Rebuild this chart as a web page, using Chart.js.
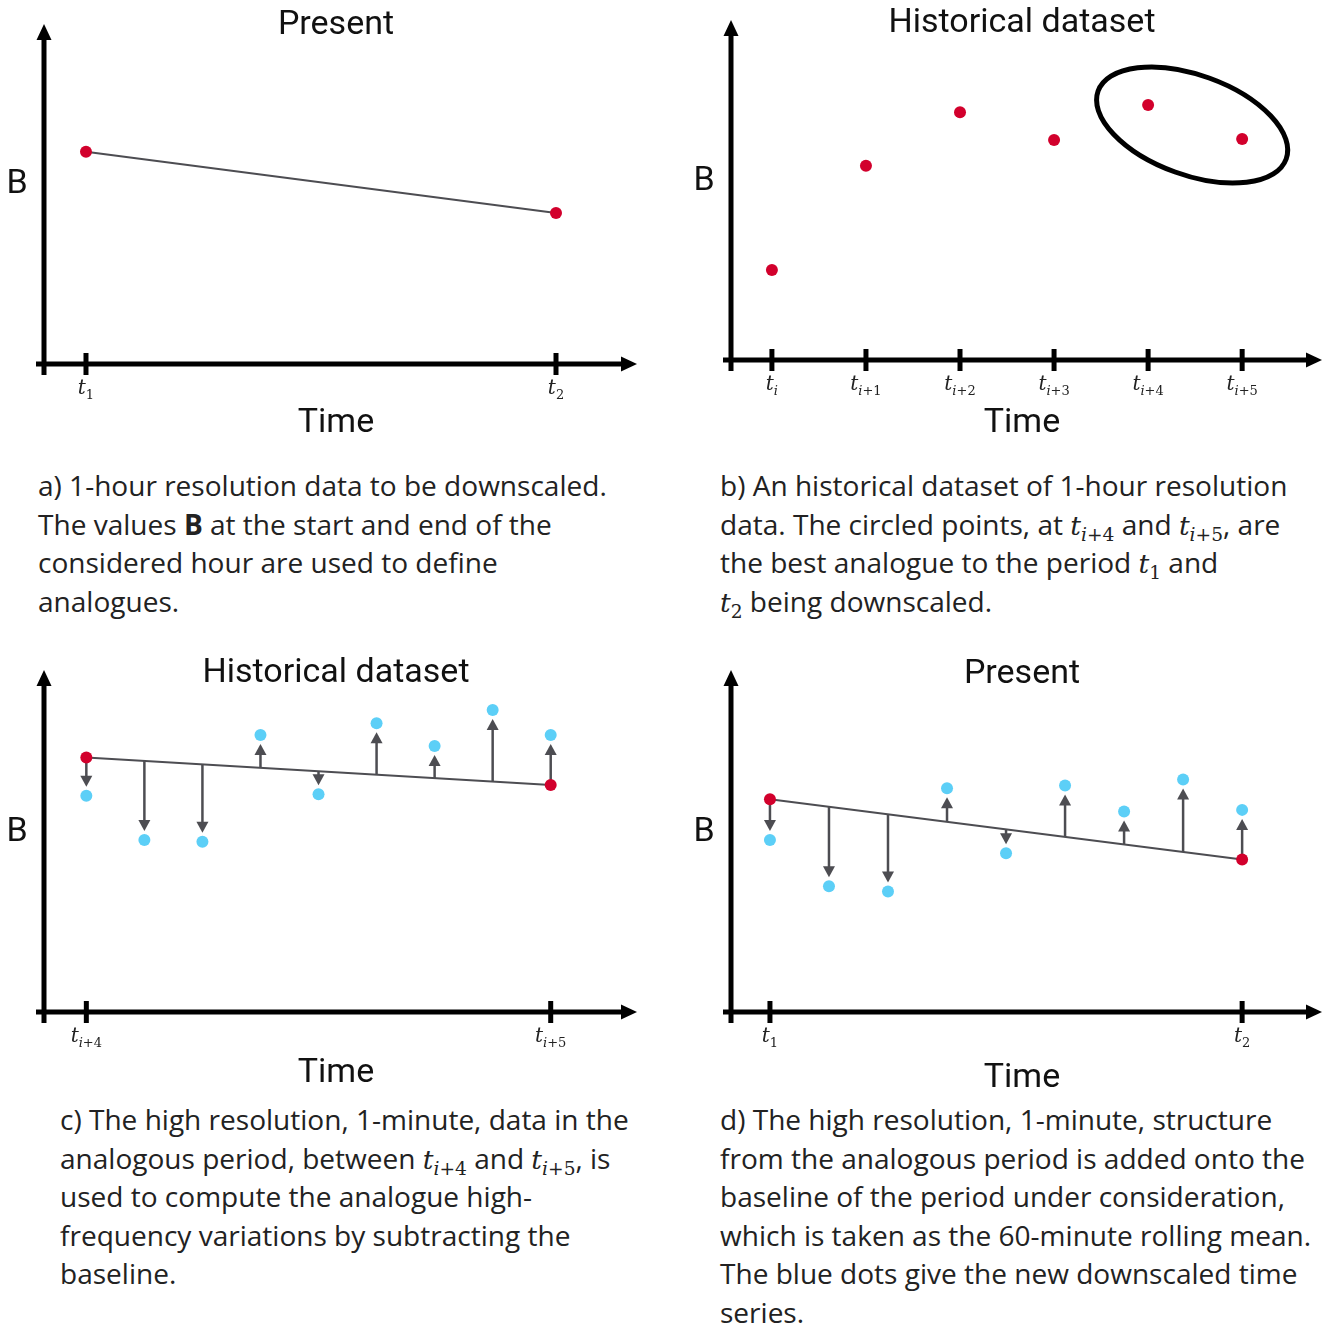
<!DOCTYPE html>
<html>
<head>
<meta charset="utf-8">
<script src="https://cdn.jsdelivr.net/npm/chart.js@4.4.1/dist/chart.umd.min.js"></script>
<style>
body { margin: 0; background: #fff; }
#page { position: relative; width: 1328px; height: 1325px; overflow: hidden; }
canvas { position: absolute; }
.lbl { position: absolute; transform: translate(-50%, -50%); font-family: Roboto; color: #111; white-space: nowrap; z-index: 2; }
.title { font-size: 34px; }
.axis { font-size: 34px; }
.cap { position: absolute; font-family: "Open Sans"; font-size: 26px; line-height: 38.5px; color: #222; white-space: nowrap; }
.m { font-family: "DejaVu Serif"; font-style: italic; font-size: 0.95em; line-height: 0; }
.m sub { font-size: 0.7em; line-height: 0; font-style: normal; vertical-align: -0.3em; }
.m sub i { font-style: italic; }
</style>
</head>
<body>
<div id="page">
  <canvas id="chartA" width="664" height="440" style="left:0;top:0"></canvas>
  <canvas id="chartB" width="664" height="440" style="left:664px;top:0"></canvas>
  <canvas id="chartC" width="664" height="440" style="left:0;top:648px"></canvas>
  <canvas id="chartD" width="664" height="440" style="left:664px;top:648px"></canvas>

  <div class="lbl title" style="left:336px;top:22px">Present</div>
  <div class="lbl title" style="left:1022px;top:20px">Historical dataset</div>
  <div class="lbl title" style="left:336px;top:670px">Historical dataset</div>
  <div class="lbl title" style="left:1022px;top:671px">Present</div>

  <div class="lbl axis" style="left:17px;top:181px">B</div>
  <div class="lbl axis" style="left:704px;top:178px">B</div>
  <div class="lbl axis" style="left:17px;top:829px">B</div>
  <div class="lbl axis" style="left:704px;top:829px">B</div>

  <div class="lbl axis" style="left:336px;top:420px">Time</div>
  <div class="lbl axis" style="left:1022px;top:420px">Time</div>
  <div class="lbl axis" style="left:336px;top:1070px">Time</div>
  <div class="lbl axis" style="left:1022px;top:1075px">Time</div>

  <div class="cap" style="left:38px;top:466px">
    <span id="capRef">a) 1-hour resolution data to be downscaled.</span><br>
    The values <b>B</b> at the start and end of the<br>
    considered hour are used to define<br>
    analogues.
  </div>
  <div class="cap" style="left:720px;top:466px">
    b) An historical dataset of 1-hour resolution<br>
    data. The circled points, at <span class="m">t<sub><i>i</i>+4</sub></span> and <span class="m">t<sub><i>i</i>+5</sub></span>, are<br>
    the best analogue to the period <span class="m">t<sub>1</sub></span> and<br>
    <span class="m">t<sub>2</sub></span> being downscaled.
  </div>
  <div class="cap" style="left:60px;top:1100px">
    c) The high resolution, 1-minute, data in the<br>
    analogous period, between <span class="m">t<sub><i>i</i>+4</sub></span> and <span class="m">t<sub><i>i</i>+5</sub></span>, is<br>
    used to compute the analogue high-<br>
    frequency variations by subtracting the<br>
    baseline.
  </div>
  <div class="cap" style="left:720px;top:1100px">
    d) The high resolution, 1-minute, structure<br>
    from the analogous period is added onto the<br>
    baseline of the period under consideration,<br>
    which is taken as the 60-minute rolling mean.<br>
    The blue dots give the new downscaled time<br>
    series.
  </div>
</div>
<script>
// hourly values (minutes from start of hour)
const hourMinutes = [0, 60];
const presentB = [6.24, 4.44];
const presentSubs = ['1', '2'];

// historical hourly dataset
const hourIndex = [0, 1, 2, 3, 4, 5];
const historicalB = [2.65, 5.71, 7.29, 6.47, 7.50, 6.50];
const historicalSubs = ['i', 'i+1', 'i+2', 'i+3', 'i+4', 'i+5'];
const circled = [4, 5];

// 1-minute structure, sampled every 7.5 minutes
const minutes = [0, 7.5, 15, 22.5, 30, 37.5, 45, 52.5, 60];
const analogueMeanB = [7.44, 6.64];
const analogueMinuteB = [6.32, 5.03, 4.98, 8.10, 6.37, 8.44, 7.78, 8.83, 8.10];
const analogueSubs = ['i+4', 'i+5'];
const downscaledMeanB = [6.22, 4.46];
const downscaledMinuteB = [5.03, 3.68, 3.52, 6.54, 4.64, 6.62, 5.86, 6.80, 5.91];

const RED = '#d2002c';
const BLUE = '#5ccff7';
const LINE = '#4d4d52';

// size the captions so the first line spans the same width as the original
(function () {
  const ref = document.getElementById('capRef');
  const w = ref.getBoundingClientRect().width;
  const size = 26 * 569 / w;
  document.querySelectorAll('.cap').forEach(el => { el.style.fontSize = size + 'px'; });
})();

function pts(xs, ys) {
  return xs.map((x, i) => ({ x: x, y: ys[i] }));
}

function head(ctx, tx, ty, dx, dy, len, half) {
  ctx.beginPath();
  ctx.moveTo(tx, ty);
  ctx.lineTo(tx - dx * len - dy * half, ty - dy * len + dx * half);
  ctx.lineTo(tx - dx * len + dy * half, ty - dy * len - dx * half);
  ctx.closePath();
  ctx.fill();
}

function tickLabel(ctx, px, py, sub) {
  ctx.textBaseline = 'alphabetic';
  ctx.textAlign = 'left';
  const big = 'italic 20px "DejaVu Serif"';
  const it = 'italic 13px "DejaVu Serif"';
  const up = '13px "DejaVu Serif"';
  ctx.font = big;
  let w = ctx.measureText('t').width;
  const parts = sub.split('').map(ch => {
    const f = /[a-z]/.test(ch) ? it : up;
    ctx.font = f;
    const cw = ctx.measureText(ch).width;
    w += cw;
    return { ch: ch, f: f, w: cw };
  });
  let cx = px - w / 2;
  ctx.font = big;
  ctx.fillText('t', cx, py);
  cx += ctx.measureText('t').width;
  parts.forEach(p => {
    ctx.font = p.f;
    ctx.fillText(p.ch, cx, py + 5);
    cx += p.w;
  });
}

const sketch = {
  id: 'sketch',
  beforeDatasetsDraw(chart, args, o) {
    const ctx = chart.ctx, a = chart.chartArea, x = chart.scales.x;
    ctx.save();
    ctx.strokeStyle = '#000';
    ctx.fillStyle = '#000';
    ctx.lineWidth = 5;
    ctx.lineCap = 'butt';
    ctx.beginPath();
    ctx.moveTo(a.left, a.top + 12);
    ctx.lineTo(a.left, a.bottom + 11);
    ctx.moveTo(a.left - 8, a.bottom);
    ctx.lineTo(a.right - 12, a.bottom);
    ctx.stroke();
    head(ctx, a.left, a.top, 0, -1, 16, 7.5);
    head(ctx, a.right, a.bottom, 1, 0, 16, 7.5);
    o.ticks.forEach((v, i) => {
      const px = x.getPixelForValue(v);
      ctx.beginPath();
      ctx.moveTo(px, a.bottom - 11);
      ctx.lineTo(px, a.bottom + 11);
      ctx.stroke();
      ctx.fillStyle = '#222';
      tickLabel(ctx, px, a.bottom + 30, o.subs[i]);
      ctx.fillStyle = '#000';
    });
    if (o.arrows) {
      const base = chart.getDatasetMeta(0).data;
      const x0 = base[0].x, y0 = base[0].y, x1 = base[1].x, y1 = base[1].y;
      ctx.strokeStyle = LINE;
      ctx.fillStyle = LINE;
      ctx.lineWidth = 2.5;
      chart.getDatasetMeta(1).data.forEach(p => {
        const yb = y0 + (y1 - y0) * (p.x - x0) / (x1 - x0);
        const s = p.y > yb ? 1 : -1;
        const tip = p.y - s * 9;
        ctx.beginPath();
        ctx.moveTo(p.x, yb);
        ctx.lineTo(p.x, tip - s * 8);
        ctx.stroke();
        head(ctx, p.x, tip, 0, s, 11, 6);
      });
    }
    ctx.restore();
  },
  afterDatasetsDraw(chart, args, o) {
    if (!o.ellipse) return;
    const ctx = chart.ctx;
    const d = chart.getDatasetMeta(0).data;
    const p = d[o.ellipse[0]], q = d[o.ellipse[1]];
    ctx.save();
    ctx.strokeStyle = '#000';
    ctx.lineWidth = 5;
    ctx.beginPath();
    ctx.ellipse((p.x + q.x) / 2 - 3, (p.y + q.y) / 2 + 3, 100, 50, Math.atan2(q.y - p.y, q.x - p.x), 0, Math.PI * 2);
    ctx.stroke();
    ctx.restore();
  }
};
Chart.register(sketch);

function makeChart(id, datasets, xr, pad, sk) {
  return new Chart(document.getElementById(id), {
    type: 'scatter',
    data: { datasets: datasets },
    options: {
      responsive: false,
      animation: false,
      events: [],
      layout: { padding: pad },
      scales: {
        x: { type: 'linear', display: false, min: xr[0], max: xr[1] },
        y: { type: 'linear', display: false, min: 0, max: 10 }
      },
      plugins: { legend: { display: false }, tooltip: { enabled: false }, sketch: sk }
    }
  });
}

function meanSet(xs, ys) {
  return {
    data: pts(xs, ys), showLine: true, borderColor: LINE, borderWidth: 2,
    pointRadius: 6, pointBackgroundColor: RED, pointBorderWidth: 0, clip: false
  };
}
function dotSet(xs, ys, color) {
  return {
    data: pts(xs, ys), showLine: false,
    pointRadius: 6, pointBackgroundColor: color, pointBorderWidth: 0, clip: false
  };
}

makeChart('chartA', [meanSet(hourMinutes, presentB)], [-5.36, 70.34],
  { left: 44, right: 27, top: 24, bottom: 76 },
  { ticks: hourMinutes, subs: presentSubs });

makeChart('chartB', [dotSet(hourIndex, historicalB, RED)], [-0.435, 5.849],
  { left: 67, right: 5, top: 20, bottom: 80 },
  { ticks: hourIndex, subs: historicalSubs, ellipse: circled });

makeChart('chartC', [meanSet(hourMinutes, analogueMeanB), dotSet(minutes, analogueMinuteB, BLUE)], [-5.47, 71.15],
  { left: 44, right: 27, top: 22, bottom: 76 },
  { ticks: hourMinutes, subs: analogueSubs, arrows: true });

makeChart('chartD', [meanSet(hourMinutes, downscaledMeanB), dotSet(minutes, downscaledMinuteB, BLUE)], [-4.95, 70.15],
  { left: 67, right: 5, top: 22, bottom: 76 },
  { ticks: hourMinutes, subs: presentSubs, arrows: true });
</script>
</body>
</html>
